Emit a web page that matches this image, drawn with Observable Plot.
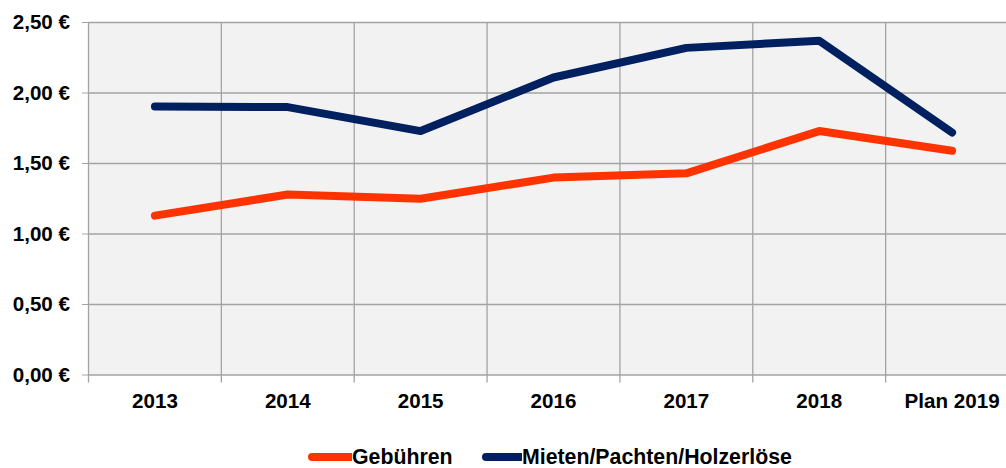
<!DOCTYPE html>
<html>
<head>
<meta charset="utf-8">
<script src="https://cdn.jsdelivr.net/npm/d3@7"></script>
<script src="https://cdn.jsdelivr.net/npm/@observablehq/plot@0.6"></script>
<style>
  html, body { margin: 0; padding: 0; background: #fff; }
  body { width: 1006px; height: 468px; overflow: hidden; font-family: "Liberation Sans", Arial, sans-serif; }
  #chart svg { display: block; }
  #legend { position: relative; height: 48px; font-weight: bold; font-size: 21.3px; color: #000; }
  .item { position: absolute; top: 25px; display: flex; align-items: center; height: 24px; white-space: nowrap; }
  .item svg { display: block; }
</style>
</head>
<body>
<div id="chart"></div>
<div id="legend"></div>
<script>
const years = ["2013", "2014", "2015", "2016", "2017", "2018", "Plan 2019"];
const gebuehren = [1.13, 1.28, 1.25, 1.40, 1.43, 1.73, 1.59];
const mieten = [1.905, 1.90, 1.73, 2.11, 2.32, 2.37, 1.72];
const yTicks = [0, 0.5, 1, 1.5, 2, 2.5];
const seriesNames = ["Gebühren", "Mieten/Pachten/Holzerlöse"];
const seriesColors = ["#ff3300", "#002060"];

const idx = years.map((d, i) => i);
const bounds = years.map((d, i) => i - 0.5).concat([years.length - 0.5]);
const rowsG = years.map((y, i) => ({i, year: y, value: gebuehren[i]}));
const rowsM = years.map((y, i) => ({i, year: y, value: mieten[i]}));
const gridColor = "#a3a3a3";

const chart = Plot.plot({
  width: 1006,
  height: 420,
  marginLeft: 88,
  marginRight: 0,
  marginTop: 22,
  marginBottom: 45.5,
  style: {fontFamily: "'Liberation Sans', Arial, sans-serif", fontWeight: "bold", fontSize: "20.6px", color: "#000", background: "#fff"},
  x: {type: "linear", domain: [-0.5, years.length - 0.5], range: [88, 1018], ticks: idx, tickFormat: i => years[i], tickSize: 0, tickPadding: 18, label: null},
  y: {domain: [0, 2.5], ticks: yTicks, tickFormat: d => d.toFixed(2).replace(".", ",") + " €", tickSize: 6, tickPadding: 12.5, label: null},
  marks: [
    Plot.frame({fill: "#f2f2f2", stroke: "none"}),
    Plot.ruleY(yTicks, {stroke: gridColor, strokeWidth: 1.3}),
    Plot.ruleX(bounds, {stroke: gridColor, strokeWidth: 1.3, insetBottom: -8}),
    Plot.line(rowsM, {x: "i", y: "value", stroke: seriesColors[1], strokeWidth: 8, strokeLinecap: "round", strokeLinejoin: "round"}),
    Plot.line(rowsG, {x: "i", y: "value", stroke: seriesColors[0], strokeWidth: 8, strokeLinecap: "round", strokeLinejoin: "round"})
  ]
});
chart.querySelectorAll('g[aria-label="y-axis tick"] path, g[aria-label="y-axis"] line').forEach(p => p.setAttribute("stroke", gridColor));
document.getElementById("chart").appendChild(chart);

const legend = document.getElementById("legend");
const lefts = [308, 482];
const swW = [44, 40];
seriesNames.forEach((name, k) => {
  const item = document.createElement("div");
  item.className = "item";
  item.style.left = lefts[k] + "px";
  const w = swW[k];
  item.innerHTML = `<svg width="${w}" height="12"><line x1="4" x2="${w}" y1="6" y2="6" stroke="${seriesColors[k]}" stroke-width="8" stroke-linecap="round"/></svg><span>${name}</span>`;
  legend.appendChild(item);
});
</script>
</body>
</html>
